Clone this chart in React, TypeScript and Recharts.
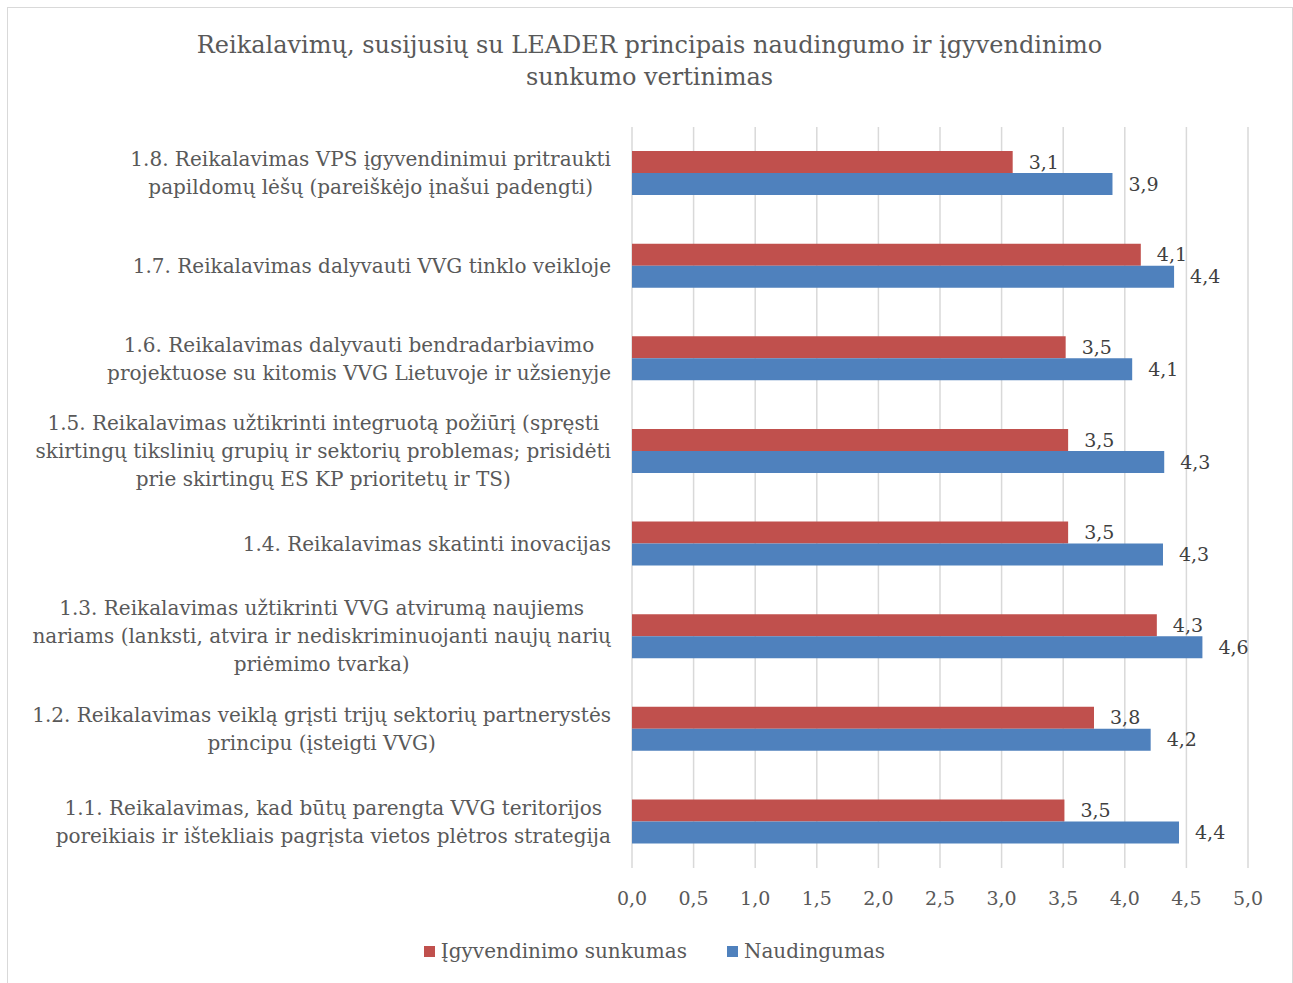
import { BarChart, Bar, XAxis, YAxis, CartesianGrid, LabelList, Legend } from "recharts";

const categories = [
  "1.8. Reikalavimas VPS įgyvendinimui pritraukti\npapildomų lėšų (pareiškėjo įnašui padengti)",
  "1.7. Reikalavimas dalyvauti VVG tinklo veikloje",
  "1.6. Reikalavimas dalyvauti bendradarbiavimo\nprojektuose su kitomis VVG Lietuvoje ir užsienyje",
  "1.5. Reikalavimas užtikrinti integruotą požiūrį (spręsti\nskirtingų tikslinių grupių ir sektorių problemas; prisidėti\nprie skirtingų ES KP prioritetų ir TS)",
  "1.4. Reikalavimas skatinti inovacijas",
  "1.3. Reikalavimas užtikrinti VVG atvirumą naujiems\nnariams (lanksti, atvira ir nediskriminuojanti naujų narių\npriėmimo tvarka)",
  "1.2. Reikalavimas veiklą grįsti trijų sektorių partnerystės\nprincipu (įsteigti VVG)",
  "1.1. Reikalavimas, kad būtų parengta VVG teritorijos\nporeikiais ir ištekliais pagrįsta vietos plėtros strategija",
];

const sunkumas = [3.09, 4.13, 3.52, 3.54, 3.54, 4.26, 3.75, 3.51];
const naudingumas = [3.9, 4.4, 4.06, 4.32, 4.31, 4.63, 4.21, 4.44];

const xTicks = [0, 0.5, 1, 1.5, 2, 2.5, 3, 3.5, 4, 4.5, 5];

const seriesNames = ["Įgyvendinimo sunkumas", "Naudingumas"];
const seriesColors = ["#C0504D", "#4F81BD"];

const data = categories.map((name, i) => ({
  name,
  sunkumas: sunkumas[i],
  naudingumas: naudingumas[i],
}));

const FONT = "'DejaVu Serif', serif";
const TEXT = "#595959";
const CAT_SIZE = 20;
const NUM_SIZE = 19;

const fmt = (v: number) => v.toFixed(1).replace(".", ",");

let ctx: CanvasRenderingContext2D | null = null;
function measure(s: string) {
  if (!ctx) {
    ctx = document.createElement("canvas").getContext("2d");
  }
  if (!ctx) return s.length * 10;
  ctx.font = `${CAT_SIZE}px 'DejaVu Serif'`;
  return ctx.measureText(s).width;
}

// category label: block of centered lines, block right-aligned to the axis
function CategoryTick({ x, y, payload }: any) {
  const lines = String(payload.value).split("\n");
  const w = Math.max(...lines.map(measure));
  const right = x - 13;
  const cx = right - w / 2;
  const lh = 28;
  const y0 = y - ((lines.length - 1) * lh) / 2;
  return (
    <text x={cx} y={y0} textAnchor="middle" fill={TEXT} fontSize={CAT_SIZE} fontFamily={FONT}>
      {lines.map((l, i) => (
        <tspan key={i} x={cx} y={y0 + i * lh} dominantBaseline="central">
          {l}
        </tspan>
      ))}
    </text>
  );
}

function LegendBox() {
  return (
    <div
      style={{
        height: 30,
        display: "flex",
        justifyContent: "center",
        alignItems: "center",
        gap: 40,
        fontFamily: FONT,
        fontSize: CAT_SIZE,
        color: TEXT,
        paddingLeft: 61,
      }}
    >
      {seriesNames.map((n, i) => (
        <span key={n} style={{ display: "flex", alignItems: "center" }}>
          <span style={{ width: 11, height: 11, background: seriesColors[i], marginRight: 6 }} />
          {n}
        </span>
      ))}
    </div>
  );
}

export default function App() {
  return (
    <div style={{ position: "absolute", left: 0, top: 0, width: 1293, height: 983, background: "#fff", overflow: "hidden" }}>
      <div
        style={{
          position: "absolute",
          left: 7,
          top: 7,
          width: 1284,
          height: 1000,
          border: "1px solid #D9D9D9",
        }}
      />
      <div
        style={{
          position: "absolute",
          left: 7,
          top: 29,
          width: 1285,
          textAlign: "center",
          fontFamily: FONT,
          fontSize: 24,
          lineHeight: "32px",
          color: TEXT,
        }}
      >
        Reikalavimų, susijusių su LEADER principais naudingumo ir įgyvendinimo
        <br />
        sunkumo vertinimas
      </div>
      <div style={{ position: "absolute", left: 0, top: 0 }}>
        <BarChart
          width={1293}
          height={983}
          data={data}
          layout="vertical"
          margin={{ top: 127, right: 45, bottom: 45, left: 0 }}
          barSize={22}
          barGap={0}
        >
          <CartesianGrid horizontal={false} stroke="#D9D9D9" strokeWidth={1.5} />
          <XAxis
            type="number"
            domain={[0, 5]}
            ticks={xTicks}
            tickFormatter={fmt}
            tickLine={false}
            axisLine={false}
            tickMargin={18}
            height={40}
            tick={{ fill: TEXT, fontSize: NUM_SIZE, fontFamily: FONT }}
          />
          <YAxis
            type="category"
            dataKey="name"
            width={632}
            tickLine={false}
            axisLine={false}
            interval={0}
            tick={<CategoryTick />}
          />
          <Legend verticalAlign="bottom" content={<LegendBox />} wrapperStyle={{ bottom: 17 }} />
          <Bar dataKey="sunkumas" name={seriesNames[0]} fill={seriesColors[0]} isAnimationActive={false}>
            <LabelList
              dataKey="sunkumas"
              position="right"
              offset={16}
              formatter={fmt}
              fill="#404040"
              fontSize={NUM_SIZE}
              fontFamily={FONT}
            />
          </Bar>
          <Bar dataKey="naudingumas" name={seriesNames[1]} fill={seriesColors[1]} isAnimationActive={false}>
            <LabelList
              dataKey="naudingumas"
              position="right"
              offset={16}
              formatter={fmt}
              fill="#404040"
              fontSize={NUM_SIZE}
              fontFamily={FONT}
            />
          </Bar>
        </BarChart>
      </div>
    </div>
  );
}
